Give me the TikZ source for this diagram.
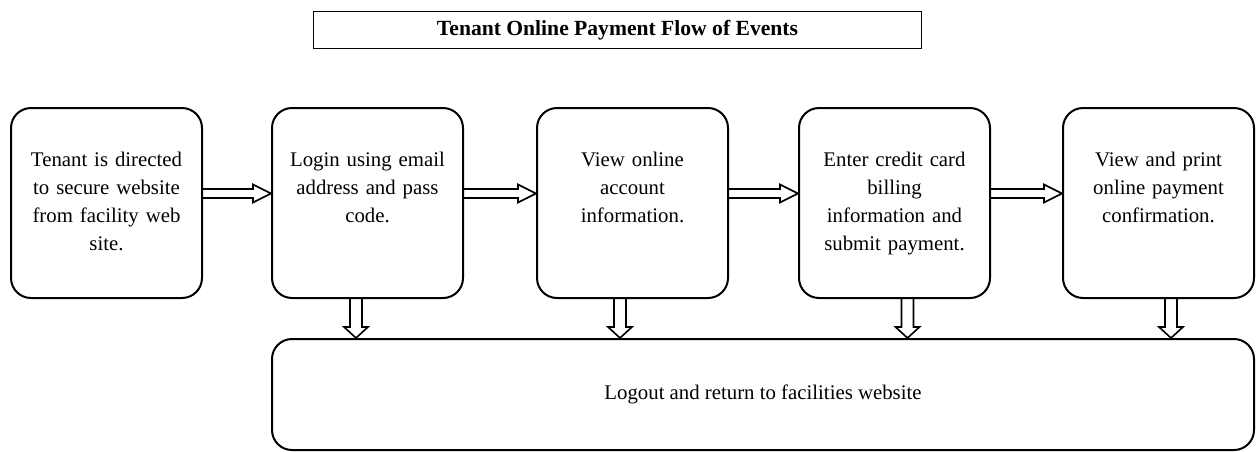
\documentclass[tikz,border=0pt]{standalone}
\usepackage{fontspec}
\setmainfont{Liberation Serif}
\usetikzlibrary{positioning,calc}

\begin{document}
\begin{tikzpicture}[x=0.5pt, y=-0.5pt, font=\fontsize{10.4}{14}\selectfont,
  box/.style={draw, line width=1pt, rounded corners=10pt, inner sep=0pt, minimum width=95.5pt, text width=92pt, align=center, text height=29pt, text depth=66pt},
  endbox/.style={draw, line width=1pt, rounded corners=10pt, minimum width=491pt, minimum height=55.5pt},
  titlebox/.style={draw, line width=0.8pt, font=\fontsize{10.8}{14}\selectfont\bfseries, minimum width=304pt, minimum height=18.5pt},
  rarr/.style={line width=0.8pt, to path={let \p1=(\tikztostart), \p2=(\tikztotarget) in (\x1,\y1+2.25pt) -- (\x2-9pt,\y1+2.25pt) -- (\x2-9pt,\y1+4.5pt) -- (\x2,\y1) -- (\x2-9pt,\y1-4.5pt) -- (\x2-9pt,\y1-2.25pt) -- (\x1,\y1-2.25pt)}},
  darr/.style={line width=0.8pt, to path={let \p1=(\tikztostart), \p2=(\tikztotarget) in (\x1-3pt,\y1) -- (\x1-3pt,\y2+5.5pt) -- (\x1-6pt,\y2+5.5pt) -- (\x1,\y2) -- (\x1+6pt,\y2+5.5pt) -- (\x1+3pt,\y2+5.5pt) -- (\x1+3pt,\y1)}}]
\useasboundingbox (0,0) rectangle (1259,451);
\node[titlebox] (title) at (617.5,30) {Tenant Online Payment Flow of Events};
\node[box, anchor=north west] (tenant) at (10,107) {Tenant is directed \\ to secure website \\ from facility web \\ site.};
\node[box, right=34pt of tenant] (login) {Login using email \\ address and pass \\ code.};
\node[box, right=36pt of login] (view) {View online \\ account \\ information.};
\node[box, right=34.5pt of view] (enter) {Enter credit card \\ billing \\ information and \\ submit payment.};
\node[box, right=35.5pt of enter] (confirm) {View and print \\ online payment \\ confirmation.};
\node[endbox, below=19.5pt of login.south west, anchor=north west] (logout) {Logout and return to facilities website};
\draw[rarr] ([yshift=4.75pt]tenant.east) to ([yshift=4.75pt]login.west);
\draw[rarr] ([yshift=4.75pt]login.east) to ([yshift=4.75pt]view.west);
\draw[rarr] ([yshift=4.75pt]view.east) to ([yshift=4.75pt]enter.west);
\draw[rarr] ([yshift=4.75pt]enter.east) to ([yshift=4.75pt]confirm.west);
\draw[darr] ([xshift=-5.75pt]login.south) to (logout.north);
\draw[darr] ([xshift=-6.25pt]view.south) to (logout.north);
\draw[darr] ([xshift=6.5pt]enter.south) to (logout.north);
\draw[darr] ([xshift=6.25pt]confirm.south) to (logout.north);
\end{tikzpicture}
\end{document}
